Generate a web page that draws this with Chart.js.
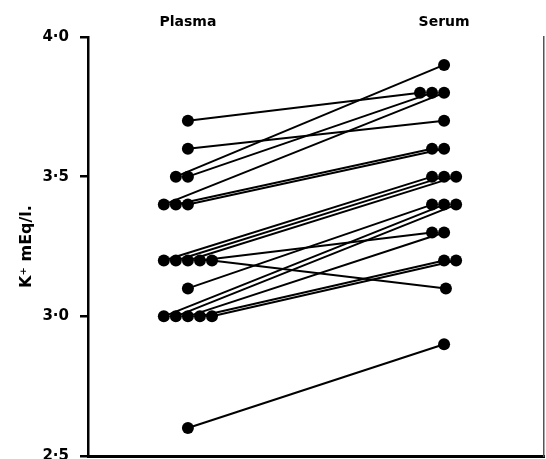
<!DOCTYPE html>
<html><head><meta charset="utf-8">
<script src="https://cdn.jsdelivr.net/npm/chart.js@4"></script>
<style>html,body{margin:0;padding:0;background:#fff;} #c{display:block;}</style>
</head><body>
<canvas id="c" width="546" height="459"></canvas>
<script>
// ---- data ----
const groups = ['Plasma', 'Serum'];
const plasma = [3.7, 3.6, 3.5, 3.5, 3.4, 3.4, 3.4, 3.2, 3.2, 3.2, 3.2, 3.2, 3.1, 3.0, 3.0, 3.0, 3.0, 3.0, 2.6];
const serum  = [3.8, 3.7, 3.9, 3.8, 3.8, 3.6, 3.6, 3.5, 3.5, 3.5, 3.3, 3.1, 3.4, 3.4, 3.4, 3.3, 3.2, 3.2, 2.9];
const yTicks = [2.5, 3.0, 3.5, 4.0];
const yTitle = 'K\u207A mEq/l.';

// ---- layout helpers (side-by-side placement of equal values) ----
const DOT_STEP = 0.047;
function slotPattern(col, value, n) {
  let s;
  if (col === 0) {
    s = n >= 5 ? [-2, -1, 0, 1, 2] : Array.from({length: n}, (_, i) => i - (n - 1));
  } else {
    s = n === 3 ? [-1, 0, 1] : n === 2 ? [-1, 0] : [0];
    const shift = {'3.8': -1, '3.2': 1, '3.1': 0.15}[value.toFixed(1)] || 0;
    s = s.map(v => v + shift);
  }
  return s;
}
function xPositions(values, col) {
  const counts = {}, used = {};
  values.forEach(v => counts[v] = (counts[v] || 0) + 1);
  return values.map(v => {
    const k = used[v] || 0;
    used[v] = k + 1;
    return col + 1 + slotPattern(col, v, counts[v])[k] * DOT_STEP;
  });
}
const px = xPositions(plasma, 0);
const sx = xPositions(serum, 1);

const datasets = plasma.map((p, i) => ({
  data: [{x: px[i], y: p}, {x: sx[i], y: serum[i]}],
  showLine: true,
  borderColor: '#000',
  backgroundColor: '#000',
  borderWidth: 2,
  pointRadius: 6,
  pointHoverRadius: 6,
  pointBorderWidth: 0,
  clip: false,
  xAxisID: 'x',
  yAxisID: 'y'
}));

const FONT = '"DejaVu Sans", sans-serif';

new Chart(document.getElementById('c'), {
  type: 'scatter',
  data: { datasets },
  options: {
    responsive: false,
    animation: false,
    events: [],
    layout: { padding: 0, autoPadding: false },
    plugins: { legend: { display: false }, tooltip: { enabled: false } },
    scales: {
      x: {
        type: 'linear', position: 'bottom', min: 0.61, max: 2.39,
        ticks: { display: false },
        grid: { display: false, drawTicks: false },
        border: { display: true, color: '#000', width: 3 },
        afterFit: s => { s.height = 3; s.paddingLeft = 0; s.paddingRight = 0; }
      },
      xTop: {
        type: 'linear', position: 'top', min: 0.61, max: 2.39,
        afterBuildTicks: s => { s.ticks = [{value: 1}, {value: 2}]; },
        ticks: {
          callback: v => groups[Math.round(v) - 1],
          font: { family: FONT, size: 14, weight: 'bold' },
          color: '#000', padding: 6, maxRotation: 0, autoSkip: false
        },
        grid: { display: false, drawTicks: false },
        border: { display: false },
        afterFit: s => { s.height = 37; s.paddingLeft = 0; s.paddingRight = 0; }
      },
      y: {
        type: 'linear', position: 'left', min: 2.5, max: 4.0,
        afterBuildTicks: s => { s.ticks = yTicks.map(v => ({value: v})); },
        ticks: {
          callback: v => v.toFixed(1).replace('.', '\u00B7'),
          font: { family: FONT, size: 15, weight: 'bold' },
          color: '#000', padding: 11
        },
        grid: { drawOnChartArea: false, drawTicks: true, tickLength: 8, color: '#000', lineWidth: 2.5 },
        border: { display: true, color: '#000', width: 2.5 },
        title: {
          display: true, text: yTitle, color: '#000',
          font: { family: FONT, size: 16, weight: 'bold' },
          padding: { top: 17, bottom: 0 }
        },
        afterFit: s => { s.width = 88; s.paddingTop = 0; s.paddingBottom = 0; }
      },
      y2: {
        type: 'linear', position: 'right', min: 2.5, max: 4.0,
        ticks: { display: false },
        grid: { display: false, drawTicks: false },
        border: { display: true, color: '#555', width: 1.5 },
        afterFit: s => { s.width = 2; s.paddingTop = 0; s.paddingBottom = 0; }
      }
    }
  }
});
</script>
</body></html>
